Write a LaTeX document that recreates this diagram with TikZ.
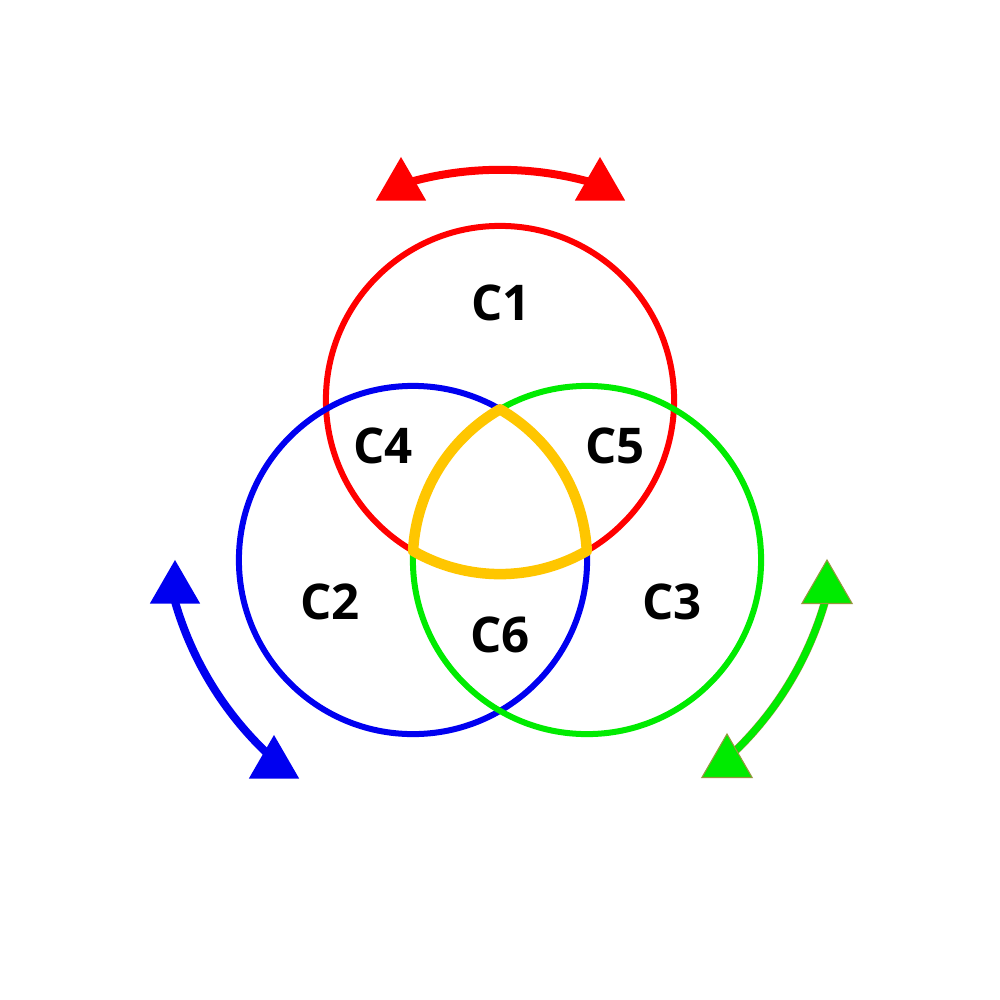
\documentclass[tikz,border=0pt]{standalone}
\usepackage{fontspec}
\setmainfont{Open Sans}
\usetikzlibrary{shapes.geometric}
\definecolor{cred}{RGB}{255,0,0}
\definecolor{cblue}{RGB}{0,0,240}
\definecolor{cgreen}{RGB}{0,235,0}
\definecolor{cgold}{RGB}{255,198,0}
\definecolor{cedge}{RGB}{150,150,60}
\begin{document}
\begin{tikzpicture}[x=0.01cm,y=0.01cm,
  ring/.style={line width=0.06cm},
  lbl/.style={font=\bfseries\fontsize{14pt}{16pt}\selectfont, inner sep=0pt},
  tip/.style={regular polygon, regular polygon sides=3, minimum size=0.58cm, inner sep=0pt, fill=#1},
  arcline/.style={line width=0.08cm, draw=#1}]
\useasboundingbox (0,0) rectangle (1000,-1000);
\fill[white] (0,0) rectangle (1000,-1000);
% centres
\coordinate (R) at (500,-400);
\coordinate (B) at (413,-560);
\coordinate (G) at (587,-560);
\coordinate (T) at (500,-409.31);
\coordinate (C) at (500,-508);
% circles
\draw[ring, cred] (R) circle[radius=1.74cm];
\draw[ring, cblue] (B) circle[radius=1.74cm];
\draw[ring, cgreen] (G) circle[radius=1.74cm];
% Reuleaux triangle
\draw[line width=0.105cm, cgold, line join=round]
  (T) arc[start angle=60, end angle=3.03, radius=1.74cm]
      arc[start angle=299.93, end angle=240.07, radius=1.74cm]
      arc[start angle=176.97, end angle=120, radius=1.74cm] -- cycle;
% labels
\node[lbl] (c1) at (501,-303) {C1};
\node[lbl] (c4) at (383,-446) {C4};
\node[lbl] (c5) at (615,-446) {C5};
\node[lbl] (c2) at (330,-602) {C2};
\node[lbl] (c3) at (672,-602) {C3};
\node[lbl] (c6) at (500,-635) {C6};
% arrow arcs
\draw[arcline=cred] (C) ++(73:3.38cm) arc[start angle=73, end angle=107, radius=3.38cm];
\draw[arcline=cblue] (C) ++(194:3.38cm) arc[start angle=194, end angle=229, radius=3.38cm];
\draw[line width=0.08cm, draw=cedge] (C) ++(311:3.38cm) arc[start angle=311, end angle=346, radius=3.38cm];
\draw[line width=0.07cm, draw=cgreen] (C) ++(311:3.38cm) arc[start angle=311, end angle=346, radius=3.38cm];
% arrow heads
\node[tip=cred] (r1) at (401,-186) {};
\node[tip=cred] (r2) at (600,-186) {};
\node[tip=cblue] (b1) at (175,-589) {};
\node[tip=cblue] (b2) at (274,-764) {};
\node[tip=cgreen, draw=cedge, line width=0.3pt] (g1) at (827,-589) {};
\node[tip=cgreen, draw=cedge, line width=0.3pt] (g2) at (727,-763) {};
\end{tikzpicture}
\end{document}
